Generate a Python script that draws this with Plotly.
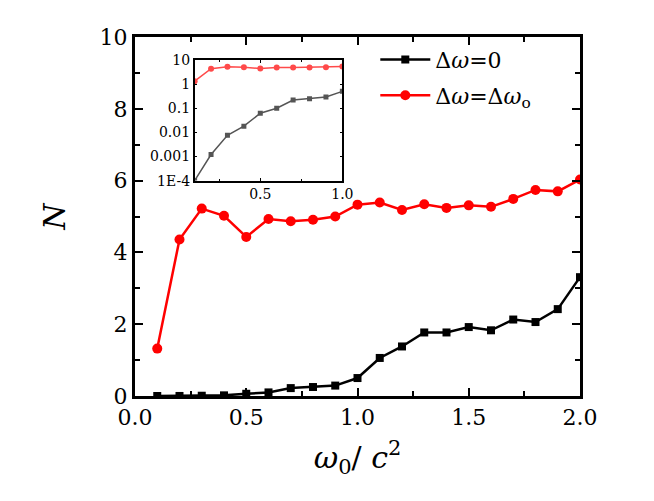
import plotly.graph_objects as go

x_vals = [0.1, 0.2, 0.3, 0.4, 0.5, 0.6, 0.7, 0.8, 0.9, 1.0,
          1.1, 1.2, 1.3, 1.4, 1.5, 1.6, 1.7, 1.8, 1.9, 2.0]
n_zero = [1e-4, 0.0012, 0.0076, 0.018, 0.062, 0.10, 0.22, 0.25, 0.29, 0.50,
          1.06, 1.38, 1.77, 1.77, 1.92, 1.83, 2.13, 2.06, 2.42, 3.31]
n_omega = [1.32, 4.36, 5.22, 5.02, 4.43, 4.93, 4.87, 4.91, 5.00, 5.33,
           5.39, 5.18, 5.34, 5.24, 5.31, 5.27, 5.49, 5.74, 5.70, 6.03]

x_ticks = [0.0, 0.5, 1.0, 1.5, 2.0]
x_ticktext = ["0.0", "0.5", "1.0", "1.5", "2.0"]
y_ticks = [0, 2, 4, 6, 8, 10]
inset_x_ticks = [0.5, 1.0]
inset_x_ticktext = ["0.5", "1.0"]
inset_y_ticks = [1e-4, 1e-3, 1e-2, 1e-1, 1, 10]
inset_y_ticktext = ["1E-4", "0.001", "0.01", "0.1", "1", "10"]

name_zero = "Δ<i>ω</i>=0"
name_omega = "Δ<i>ω</i>=Δ<i>ω</i><sub>o</sub>"

inset_n = sum(1 for v in x_vals if v <= 1.0)

FONT = "DejaVu Serif"

fig = go.Figure()
fig.add_trace(go.Scatter(x=x_vals, y=n_zero, mode="lines+markers", name=name_zero,
                         line=dict(color="black", width=2.5),
                         marker=dict(symbol="square", size=8, color="black"),
                         legendgroup="a"))
fig.add_trace(go.Scatter(x=x_vals, y=n_omega, mode="lines+markers", name=name_omega,
                         line=dict(color="#ff0000", width=2.5),
                         marker=dict(symbol="circle", size=10, color="#ff0000"),
                         legendgroup="b"))
fig.add_trace(go.Scatter(x=x_vals[:inset_n], y=n_zero[:inset_n], mode="lines+markers",
                         xaxis="x2", yaxis="y2", showlegend=False,
                         line=dict(color="#555555", width=1.5),
                         marker=dict(symbol="square", size=5, color="#555555")))
fig.add_trace(go.Scatter(x=x_vals[:inset_n], y=n_omega[:inset_n], mode="lines+markers",
                         xaxis="x2", yaxis="y2", showlegend=False,
                         line=dict(color="#ff4a4a", width=1.5),
                         marker=dict(symbol="circle", size=6, color="#ff4a4a")))

axis_common = dict(showline=True, linecolor="black", mirror="ticks", ticks="inside",
                   showgrid=False, zeroline=False, tickcolor="black")

fig.update_layout(
    width=654, height=501,
    paper_bgcolor="white", plot_bgcolor="white",
    margin=dict(l=127, r=82, t=29, b=113),
    font=dict(family=FONT, color="black"),
    xaxis=dict(range=[0, 2.0], tickvals=x_ticks, ticktext=x_ticktext,
               linewidth=3, ticklen=8, tickwidth=2,
               tickfont=dict(size=22, family=FONT),
               minor=dict(ticks="inside", ticklen=5, tickwidth=2, dtick=0.25, tickcolor="black"),
               title=dict(text="<i>ω</i><sub>0</sub>/ <i>c</i><sup>2</sup>",
                          font=dict(size=30, family=FONT), standoff=18),
               **axis_common),
    yaxis=dict(range=[0, 10], tickvals=y_ticks,
               linewidth=3, ticklen=8, tickwidth=2,
               tickfont=dict(size=22, family=FONT),
               minor=dict(ticks="inside", ticklen=5, tickwidth=2, dtick=1, tickcolor="black"),
               title=dict(text="<i>N</i>", font=dict(size=30, family=FONT), standoff=26),
               **axis_common),
    xaxis2=dict(domain=[0.134, 0.466], anchor="y2", range=[0.1, 1.0],
                tickvals=inset_x_ticks, ticktext=inset_x_ticktext,
                linewidth=1.5, ticklen=3, tickwidth=1,
                tickfont=dict(size=14, family=FONT),
                minor=dict(ticks="inside", ticklen=2, tickwidth=1, dtick=0.25, tickcolor="black"),
                **axis_common),
    yaxis2=dict(domain=[0.600, 0.936], anchor="x2", type="log", range=[-4, 1],
                tickvals=inset_y_ticks, ticktext=inset_y_ticktext,
                linewidth=1.5, ticklen=3, tickwidth=1,
                tickfont=dict(size=14, family=FONT),
                **axis_common),
    legend=dict(x=0.54, y=0.995, xanchor="left", yanchor="top",
                bgcolor="rgba(0,0,0,0)", font=dict(size=22, family=FONT),
                tracegroupgap=4, itemwidth=50),
)

fig.write_html("out.html")
